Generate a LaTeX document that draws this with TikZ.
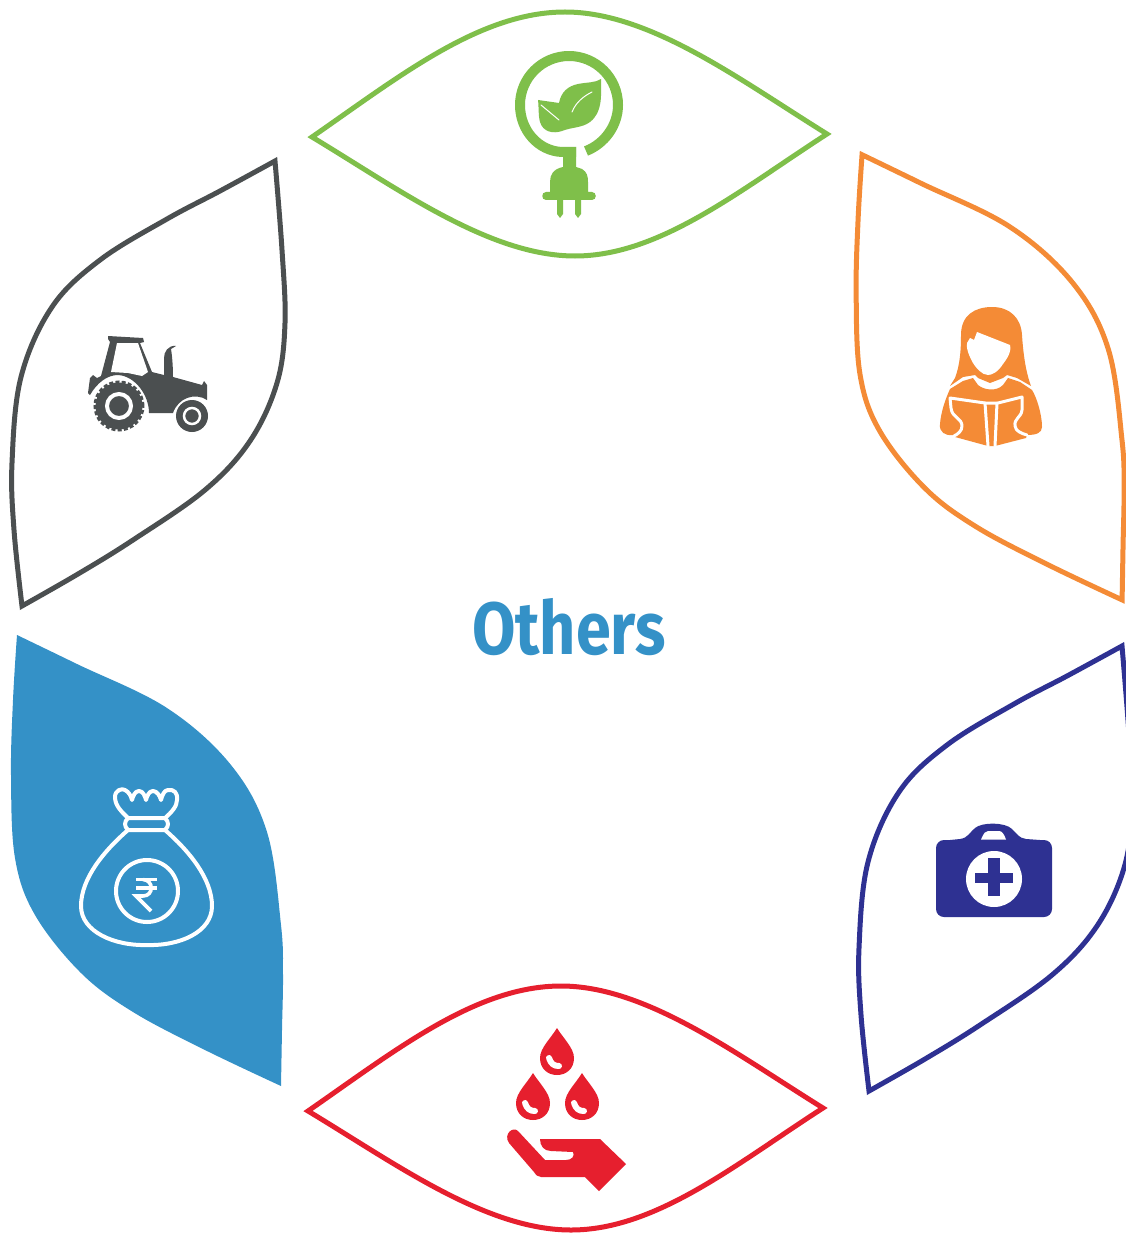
\documentclass[tikz,border=0pt]{standalone}
\usepackage{fontspec}
\setmainfont{Fira Sans}
\definecolor{lgreen}{HTML}{7FBF4A}
\definecolor{lorange}{HTML}{F48B36}
\definecolor{lnavy}{HTML}{2E3192}
\definecolor{lred}{HTML}{E61F2E}
\definecolor{lgrey}{HTML}{4B4F50}
\definecolor{lblue}{HTML}{3491C7}
\tikzset{
  leaf/.style={line width=5pt,miter limit=10,line join=miter,fill=white},
  wline/.style={draw=white,line width=#1,line cap=round,line join=round},
  wline/.default=3pt
}
\def\hleaf{(312,137) .. controls (400,76) and (480,12) .. (565,12) .. controls (650,12) and (740,80) .. (827,134) .. controls (740,190) and (660,256) .. (575,256) .. controls (490,256) and (400,190) .. (312,137) -- cycle}
\def\tleaf{plot[smooth,tension=.6] coordinates {(275,161) (220,191) (167,219) (100,260) (52,307) (21,377) (12,463) (14,530) (22,606)} -- plot[smooth,tension=.6] coordinates {(22,606) (78,574) (133,540) (205,490) (250,441) (277,383) (285,323) (282,250) (275,161)} -- cycle}
\def\bleaf{plot[smooth,tension=.6] coordinates {(17,635) (77,664) (167,708) (231,765) (267,832) (281,925) (283,975) (282,1030) (281,1086)} -- plot[smooth,tension=.6] coordinates {(281,1086) (205,1050) (133,1012) (81,973) (35,915) (15,858) (11,775) (13,700) (17,635)} -- cycle}
\begin{document}
\begin{tikzpicture}[x=1pt,y=-1pt]
\useasboundingbox (0,0) rectangle (1126,1233);
\clip (0,0) rectangle (1126,1233);
% leaves
\draw[leaf,draw=lgreen] \hleaf;
\draw[leaf,draw=lred,shift={(-4,974)}] \hleaf;
\draw[leaf,draw=lgrey] \tleaf;
\draw[leaf,draw=lnavy,shift={(847,485)}] \tleaf;
\fill[lblue] \bleaf;
\draw[leaf,draw=lorange,shift={(845.3,-472)},xscale=.985,yscale=.987] \bleaf;
% title
\node[text=lblue,font=\bfseries\fontsize{74}{78}\selectfont,xscale=0.85,transform shape,inner sep=0] (title) at (569,627) {Others};
% green icon
\draw[lgreen,line width=10pt,line join=round] (586,151) .. controls (604,144) and (618,126) .. (618,105) .. controls (618,78) and (596,56) .. (569,56) .. controls (542,56) and (520,78) .. (520,105) .. controls (520,130) and (538,151) .. (562,152) -- (576,152);
\fill[lgreen] (563,150) -- (576,147) -- (576,167) -- (582,169) .. controls (587,172) and (588,176) .. (588,182) -- (588,192) -- (592,192) .. controls (597,192) and (597,200) .. (592,200) -- (581,200) -- (581,214) -- (578,218) -- (575,214) -- (575,200) -- (563,200) -- (563,214) -- (560,218) -- (557,214) -- (557,200) -- (546,200) .. controls (541,200) and (541,192) .. (546,192) -- (550,192) -- (550,182) .. controls (550,175) and (553,169) .. (563,167) -- cycle;
\fill[lgreen] (538,100) -- (559,103) .. controls (561,92) and (568,86) .. (578,84) .. controls (588,82) and (595,83) .. (601,79) .. controls (601,95) and (603,112) .. (590,122) .. controls (582,128) and (572,127) .. (562,131) .. controls (553,134) and (543,132) .. (540,122) .. controls (538,114) and (539,108) .. (538,100) -- cycle;
\draw[wline=1pt] (541,105) -- (559,120);
\draw[wline=1pt] (572,112) .. controls (576,102) and (584,96) .. (592,92);
% orange icon
\fill[lorange] (950,386) -- (955,378) .. controls (960,365) and (961,350) .. (961,335) .. controls (961,315) and (975,307) .. (992,307) .. controls (1010,307) and (1021,318) .. (1022,335) .. controls (1023,350) and (1025,370) .. (1031,386) -- (1017,378) -- (1007,375) -- (1003,378) -- (990,383) -- (978,378) -- (975,375) -- (963,377) -- cycle;
\fill[white] (977,332) -- (1010,345) .. controls (1012,352) and (1006,360) .. (1003,364) .. controls (998,372) and (992,375) .. (988,375) .. controls (982,375) and (976,368) .. (973,363) .. controls (969,356) and (966,348) .. (967,343) -- (970,338) -- (974,340) -- cycle;
\fill[lorange] (950,389) -- (963,381) -- (973,378) -- (978,385) .. controls (984,390) and (996,392) .. (1003,385) -- (1008,378) -- (1020,382) -- (1032,390) .. controls (1037,398) and (1042,415) .. (1042,427) .. controls (1042,433) and (1036,435) .. (1027,435) -- (1026,438) -- (995,446) -- (988,446) -- (955,437) -- (953,435) .. controls (945,436) and (939,432) .. (940,424) .. controls (941,412) and (945,400) .. (950,389) -- cycle;
\draw[wline=3pt] (985,403) -- (950,398) -- (951,408) .. controls (952,418) and (962,418) .. (962,426) .. controls (962,431) and (958,434) .. (954,436);
\draw[wline=3pt] (985,403) -- (998,403) -- (1022,397) -- (1022,410) .. controls (1021,418) and (1014,418) .. (1015,426) .. controls (1016,431) and (1020,433) .. (1027,435);
\draw[wline=3pt] (985,403) -- (988,446);
\draw[wline=3pt] (997,403) -- (995,446);
% tractor
\fill[lgrey] (108,336) -- (143,338) -- (144,342) -- (140,343) -- (152,372) -- (164,375) -- (164,358) .. controls (164,352) and (168,345) .. (176,346) -- (171,349) .. controls (172,355) and (173,365) .. (173,377) -- (202,385) -- (204,381) -- (207,385) -- (207,400) .. controls (195,392) and (178,398) .. (173,413) -- (149,413) .. controls (149,395) and (135,376) .. (118,375) .. controls (107,375) and (97,383) .. (90,395) -- (88,393) -- (90,378) -- (93,375) -- (97,378) -- (101,376) -- (110,342) -- (108,339) -- cycle;
\fill[white] (117,343) -- (138,343) -- (148,372) -- (142,376) -- (128,373) -- (111,372) -- cycle;
\fill[lgrey] (119,406) circle[radius=23.5pt];
\draw[lgrey,line width=3pt,dash pattern=on 4pt off 2.2pt] (119,406) circle[radius=24pt];
\draw[white,line width=4pt] (119,406) circle[radius=12pt];
\fill[lgrey] (192,416) circle[radius=16pt];
\draw[white,line width=2.5pt] (192,416) circle[radius=8pt];
% bag
\draw[wline=4pt] (128,818) .. controls (122,812) and (115,806) .. (115,797) .. controls (115,790) and (122,788) .. (125,790) .. controls (129,792) and (131,796) .. (132,800) .. controls (133,796) and (135,791) .. (139,791) .. controls (143,791) and (145,796) .. (146,800) .. controls (147,796) and (149,791) .. (153,791) .. controls (157,791) and (160,796) .. (161,800) .. controls (162,796) and (164,790) .. (168,790) .. controls (174,789) and (178,793) .. (177,800) .. controls (177,806) and (172,812) .. (165,818) -- cycle;
\draw[wline=4pt] (128,818) .. controls (124,822) and (124,826) .. (128,830) -- (165,830) .. controls (169,826) and (169,822) .. (165,818);
\draw[wline=4pt] (128,830) .. controls (105,850) and (81,878) .. (81,906) .. controls (81,932) and (115,946) .. (147,945) .. controls (180,946) and (212,932) .. (212,906) .. controls (212,878) and (188,850) .. (165,830);
\draw[wline=4pt] (147,891) circle[radius=31pt];
\draw[wline=3.6pt,line cap=butt] (136,879.5) -- (157,879.5);
\draw[wline=3.6pt,line cap=butt] (136,888) -- (157,888);
\draw[wline=3.6pt,line cap=butt,line join=miter] (143,879.5) .. controls (154,880) and (154,896) .. (143,896) -- (136,896) -- (151,911);
% red icon
\foreach \cx/\cy in {557/1058,533/1103,582/1103}{
  \fill[lred] (\cx,\cy-30) .. controls (\cx+6,\cy-20) and (\cx+17,\cy-10) .. (\cx+17,\cy) .. controls (\cx+17,\cy+11) and (\cx+9,\cy+17) .. (\cx,\cy+17) .. controls (\cx-9,\cy+17) and (\cx-17,\cy+11) .. (\cx-17,\cy) .. controls (\cx-17,\cy-10) and (\cx-6,\cy-20) .. (\cx,\cy-30) -- cycle;
  \draw[wline=6pt] (\cx-8,\cy) .. controls (\cx-6,\cy+6) and (\cx-3,\cy+8) .. (\cx+2,\cy+8);
}
\fill[lred] (518,1131) -- (545,1160) -- (566,1160) .. controls (572,1160) and (575,1156) .. (573,1152) -- (551,1151) .. controls (544,1151) and (540,1146) .. (540,1139) -- (600,1139) -- (626,1164) -- (599,1191) -- (585,1177) -- (541,1177) .. controls (538,1177) and (536,1175) .. (534,1172) -- (509,1143) .. controls (503,1134) and (513,1126) .. (518,1131) -- cycle;
% navy icon
\fill[lnavy,rounded corners=8pt] (936,840) rectangle (1052,917);
\fill[lnavy] (950,840) -- (960,839) .. controls (968,838) and (970,832) .. (975,828) .. controls (982,822) and (1005,822) .. (1012,829) .. controls (1017,834) and (1019,838) .. (1026,839) -- (1040,840) -- (1040,850) -- (950,850) -- cycle;
\fill[white] (981,839.5) .. controls (984,833) and (985,831) .. (988,831) -- (999,831) .. controls (1002,831) and (1004,834) .. (1006,839.5) -- cycle;
\fill[white] (994,879) circle[radius=28pt];
\fill[lnavy] (988,858) rectangle (1000,896);
\fill[lnavy] (975,873) rectangle (1013,883);
\end{tikzpicture}
\end{document}
